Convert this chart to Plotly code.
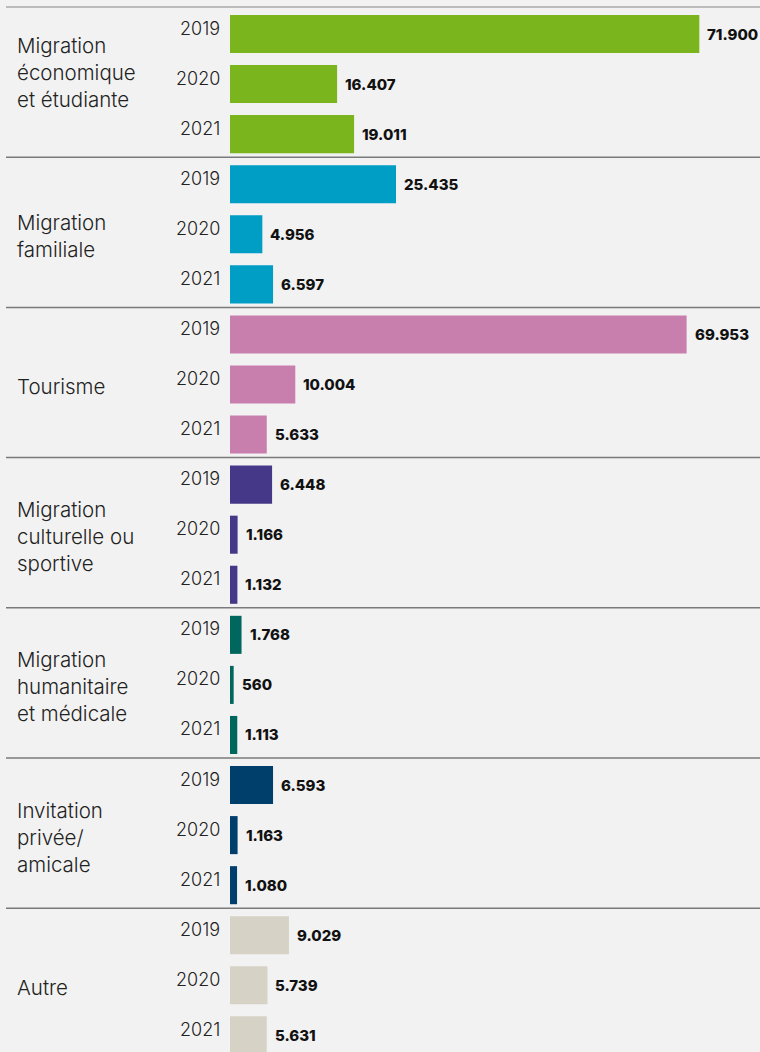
import plotly.graph_objects as go

categories = [
    ["Migration", "économique", "et étudiante"],
    ["Migration", "familiale"],
    ["Tourisme"],
    ["Migration", "culturelle ou", "sportive"],
    ["Migration", "humanitaire", "et médicale"],
    ["Invitation", "privée/", "amicale"],
    ["Autre"],
]
years = ["2019", "2020", "2021"]
values = [
    [71900, 16407, 19011],
    [25435, 4956, 6597],
    [69953, 10004, 5633],
    [6448, 1166, 1132],
    [1768, 560, 1113],
    [6593, 1163, 1080],
    [9029, 5739, 5631],
]
colors = ["#7ab51d", "#009dc4", "#c87fae", "#463888", "#00675e", "#003e6b", "#d6d2c6"]

W, H = 760, 1052
PITCH = 50.07          # px per bar slot
Y0 = 34                # px centre of first bar
X0 = 230               # px where bars start
XSCALE = 153.2         # value per px

ymin = -Y0 / PITCH
ymax = (H - Y0) / PITCH
xmax = (W - X0) * XSCALE

FONT = "Inter, Roboto, sans-serif"

fig = go.Figure()
annotations = []
shapes = []

def fmt(v):
    return f"{v:,}".replace(",", ".")

for g, (cat, vals, col) in enumerate(zip(categories, values, colors)):
    ys = [g * 3 + i for i in range(3)]
    fig.add_trace(go.Bar(
        x=vals, y=ys, orientation="h", width=0.76,
        marker=dict(color=col, line=dict(width=0)),
        hoverinfo="skip", showlegend=False,
    ))
    for yv, v, yr in zip(ys, vals, years):
        annotations.append(dict(
            x=v, y=yv, xref="x", yref="y", text=fmt(v),
            showarrow=False, xanchor="left", yanchor="middle", xshift=6,
            font=dict(family=FONT, size=15, color="#111", weight=800),
        ))
        annotations.append(dict(
            x=222 / W, y=yv, xref="paper", yref="y", text=yr,
            showarrow=False, xanchor="right", yanchor="middle", yshift=6,
            font=dict(family=FONT, size=18, color="#222", weight=300),
        ))
    n = len(cat)
    centre_shift = 12 if g == 0 else -2
    for li, line in enumerate(cat):
        off = (li - (n - 1) / 2) * 27
        annotations.append(dict(
            x=15 / W, y=g * 3 + 1, xref="paper", yref="y", text=line,
            showarrow=False, xanchor="left", yanchor="middle",
            yshift=-off + centre_shift,
            font=dict(family=FONT, size=20.5, color="#222", weight=300),
        ))
    shapes.append(dict(
        type="line", xref="paper", yref="y", x0=6 / W, x1=1,
        y0=g * 3 - 0.54, y1=g * 3 - 0.54,
        line=dict(color="#aaaaaa" if g == 0 else "#7a7a7a", width=1.5),
        layer="below",
    ))

fig.update_layout(
    width=W, height=H,
    margin=dict(l=0, r=0, t=0, b=0),
    paper_bgcolor="#f2f2f2", plot_bgcolor="#f2f2f2",
    barmode="overlay",
    xaxis=dict(domain=[X0 / W, 1], range=[0, xmax], visible=False, fixedrange=True),
    yaxis=dict(range=[ymax, ymin], visible=False, fixedrange=True),
    annotations=annotations, shapes=shapes,
)

fig.write_html("out.html", config={"displayModeBar": False})
